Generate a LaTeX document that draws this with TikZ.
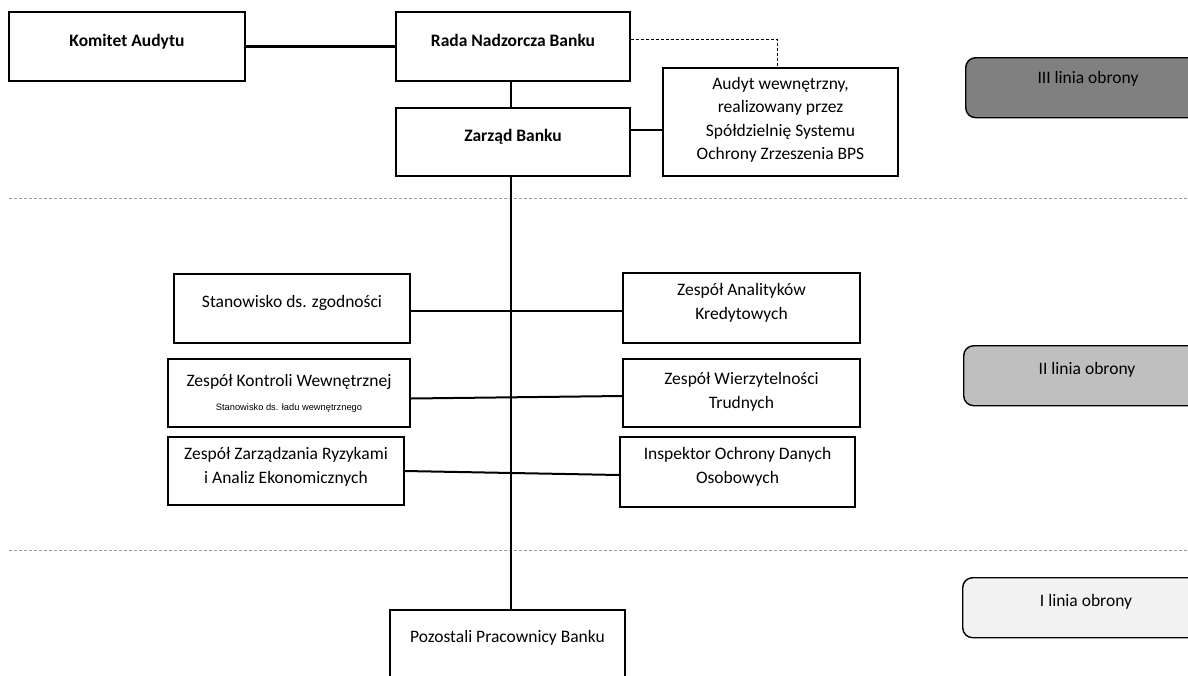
\documentclass[tikz,border=0pt]{standalone}
\usepackage{fontspec}
\setmainfont{Carlito}
\newfontfamily\arialf{Liberation Sans}
\usetikzlibrary{calc}
\tikzset{
  orgbox/.style={draw=black, line width=1.4pt, fill=white, minimum width=#1, inner sep=0pt},
  lbl/.style={font=\fontsize{17.5}{23.5}\selectfont, align=center, inner sep=0pt},
  blbl/.style={font=\fontsize{17.5}{23.5}\selectfont\bfseries, align=center, inner sep=0pt},
  conn/.style={line width=2.6pt},
  sep/.style={draw=gray!80, line width=0.8pt, dash pattern=on 3pt off 2pt},
  linebox/.style={draw=black, line width=1.4pt, rounded corners=10pt},
}
\begin{document}
\begin{tikzpicture}[x=1pt,y=-1pt]
\useasboundingbox (0,0) rectangle (1188,675);
\clip (0,0) rectangle (1188,675);
\fill[white] (0,0) rectangle (1188,675);

% separators
\draw[sep] (9,198) -- (1188,198);
\draw[sep] (9,550) -- (1188,550);

% boxes
\node[orgbox=236pt, minimum height=69pt] (kom) at (127,46.5) {};
\node[orgbox=234pt, minimum height=69pt] (rada) at (513,46.5) {};
\node[orgbox=234pt, minimum height=68pt] (zar) at (513,142) {};
\node[orgbox=235pt, minimum height=108pt] (aud) at (780.5,122) {};
\node[orgbox=236pt, minimum height=69pt] (stan) at (292,308.5) {};
\node[orgbox=237pt, minimum height=70pt] (anal) at (741.5,308) {};
\node[orgbox=242pt, minimum height=68pt] (kon) at (289,393) {};
\node[orgbox=237pt, minimum height=68pt] (wierz) at (741.5,393) {};
\node[orgbox=236pt, minimum height=68pt] (zarz) at (286,471) {};
\node[orgbox=235pt, minimum height=70pt] (insp) at (737.5,472) {};
\node[orgbox=235pt, minimum height=80pt] (poz) at (507.5,650) {};

% texts
\node[blbl] (tkom) at (127,42) {Komitet Audytu};
\node[blbl] (trada) at (513,40) {Rada Nadzorcza Banku};
\node[blbl] (tzar) at (513,137) {Zarząd Banku};
\node[lbl] (taud) at (780.5,120) {Audyt wewnętrzny,\\realizowany przez\\Spółdzielnię Systemu\\Ochrony Zrzeszenia BPS};
\node[lbl] (tstan) at (292,303) {Stanowisko ds. zgodności};
\node[lbl] (tanal) at (741.5,303) {Zespół Analityków\\Kredytowych};
\node[lbl] (tkon) at (289,382) {Zespół Kontroli Wewnętrznej};
\node[font=\arialf\fontsize{9.3}{11}\selectfont, inner sep=0pt] (tkon2) at (289,408) {Stanowisko ds. ładu wewnętrznego};
\node[lbl] (twierz) at (741.5,392) {Zespół Wierzytelności\\Trudnych};
\node[lbl] (tzarz) at (286,467) {Zespół Zarządzania Ryzykami\\i Analiz Ekonomicznych};
\node[lbl] (tinsp) at (737.5,467) {Inspektor Ochrony Danych\\Osobowych};
\node[lbl] (tpoz) at (507.5,638) {Pozostali Pracownicy Banku};

% connectors
\draw[conn] (kom.east) -- (rada.west);
\draw[conn] (rada.south -| 511,0) -- (zar.north -| 511,0);
\draw[conn] (zar.east |- 0,130) -- (aud.west |- 0,130);
\draw[conn] (zar.south -| 511,0) -- (poz.north -| 511,0);
\draw[line width=0.6pt, dash pattern=on 3pt off 2pt] (rada.east |- 0,39) -| (aud.north -| 777,0);
\draw[conn] (stan.east |- 0,311) -- (anal.west |- 0,311);
\draw[line width=2pt] (kon.east |- 0,398.5) -- (wierz.west |- 0,396);
\draw[line width=2pt] (zarz.east |- 0,471) -- (insp.west |- 0,475);

% lines of defence
\node[linebox, fill=black!50, minimum width=250pt, minimum height=60pt, anchor=north west, inner sep=0pt] (l3) at (965,57) {};
\node[lbl] (tl3) at (1088,79) {III linia obrony};
\node[linebox, fill=black!25, minimum width=250pt, minimum height=60pt, anchor=north west, inner sep=0pt] (l2) at (963,345) {};
\node[lbl] (tl2) at (1087,370) {II linia obrony};
\node[linebox, fill=black!5, minimum width=250pt, minimum height=60pt, anchor=north west, inner sep=0pt] (l1) at (962,577) {};
\node[lbl] (tl1) at (1086,602) {I linia obrony};
\end{tikzpicture}
\end{document}
